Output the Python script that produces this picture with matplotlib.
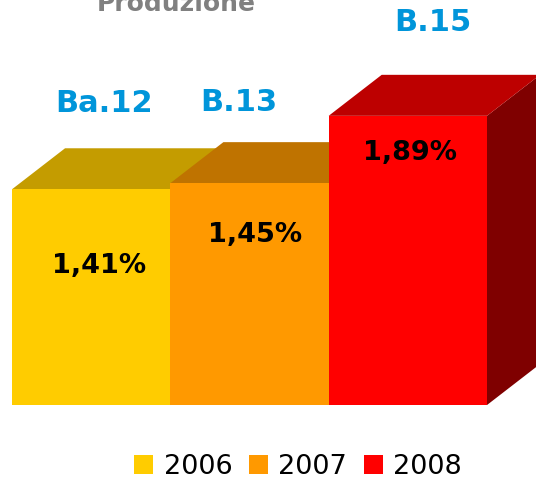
import matplotlib.pyplot as plt
from matplotlib.patches import Polygon, Patch

# data
years = ['2006', '2007', '2008']
values = [1.41, 1.45, 1.89]
pct_labels = ['1,41%', '1,45%', '1,89%']
top_labels = ['Ba.12', 'B.13', 'B.15']
title = 'Produzione'

# colours: front, top, side
front_cols = ['#FFCC00', '#FF9900', '#FF0000']
top_cols = ['#C49C00', '#BF7300', '#BD0000']
side_cols = ['#7F6600', '#7F4C00', '#7F0000']

# layout (axes units)
depth_x = 0.335
depth_y = 0.268
pct_pos = [(0.55, 0.91), (1.535, 1.11), (2.514, 1.65)]
top_pos = [(0.58, 1.97), (1.43, 1.98), (2.66, 2.50)]

fig = plt.figure(figsize=(5.36, 4.82), dpi=100)
ax = fig.add_axes([0, 0, 1, 1])
ax.set_xlim(-0.0758, 3.3095)
ax.set_ylim(-0.503, 2.647)
ax.axis('off')

xs = list(range(len(values)))
for i, v in enumerate(values):
    x0, x1 = xs[i], xs[i] + 1
    z = 2 + i * 3
    side = Polygon([(x1, 0), (x1, v), (x1 + depth_x, v + depth_y), (x1 + depth_x, depth_y)],
                   closed=True, facecolor=side_cols[i], edgecolor='none', zorder=z)
    top = Polygon([(x0, v), (x1, v), (x1 + depth_x, v + depth_y), (x0 + depth_x, v + depth_y)],
                  closed=True, facecolor=top_cols[i], edgecolor='none', zorder=z)
    ax.add_patch(side)
    ax.add_patch(top)
    ax.bar(x0, v, width=1, align='edge', color=front_cols[i], edgecolor='none', zorder=z + 1)

for (px, py), lab in zip(pct_pos, pct_labels):
    ax.text(px, py, lab, ha='center', va='center', fontsize=19.5, fontweight='bold',
            color='black', zorder=20)

for (px, py), lab in zip(top_pos, top_labels):
    ax.text(px, py, lab, ha='center', va='center', fontsize=22, fontweight='bold',
            color='#0095DA', zorder=20)

# title sits partly above the top edge, as in the original
ax.text(1.036, 2.572, title, ha='center', va='baseline', fontsize=18, fontweight='bold',
        color='#808080')

handles = [Patch(facecolor=c, edgecolor='none', label=y) for c, y in zip(front_cols, years)]
ax.legend(handles=handles, loc='center', bbox_to_anchor=(0.556, 0.031), ncol=3,
          frameon=False, fontsize=19.5, handlelength=0.7, handleheight=0.7,
          handletextpad=0.4, columnspacing=0.6, borderpad=0)

fig.savefig('out.png', dpi=100)
